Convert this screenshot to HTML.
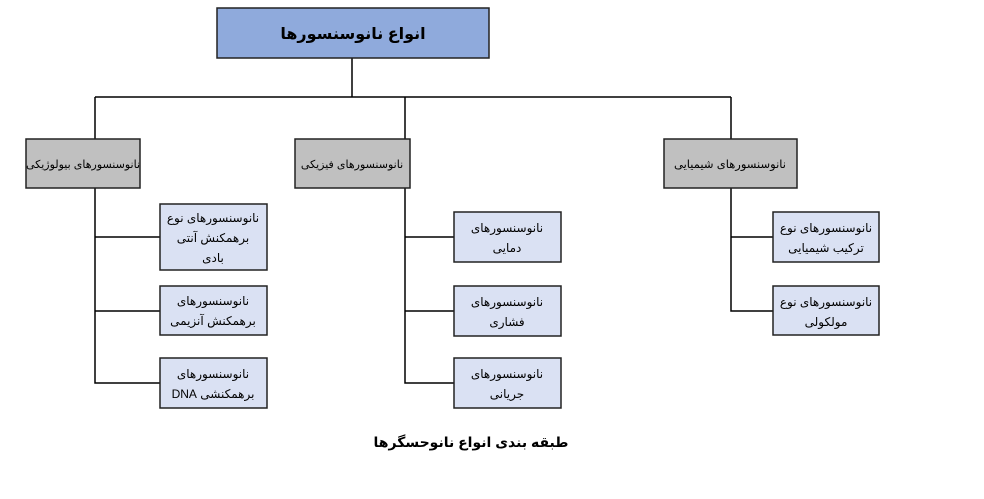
<!DOCTYPE html>
<html><head><meta charset="utf-8"><style>
body{margin:0;background:#fff;width:984px;height:494px;overflow:hidden}
text{font-family:"Liberation Sans","DejaVu Sans",sans-serif;direction:rtl}
</style></head><body>
<svg width="984" height="494" xmlns="http://www.w3.org/2000/svg">
<g stroke="#000" stroke-width="1.5" fill="none">
<path d="M352 58V97M95 97H731M95 97V139M405 97V139M731 97V139"/>
<path d="M95 188V383H160M95 237H160M95 311H160"/>
<path d="M405 188V383H454M405 237H454M405 311H454"/>
<path d="M731 188V311H773M731 237H773"/>
</g>
<g stroke="#222" stroke-width="1.5">
<rect x="217" y="8" width="272" height="50" fill="#8faadc"/>
<rect x="26" y="139" width="114" height="49" fill="#c0c0c0"/>
<rect x="295" y="139" width="115" height="49" fill="#c0c0c0"/>
<rect x="664" y="139" width="133" height="49" fill="#c0c0c0"/>
<rect x="160" y="204" width="107" height="66" fill="#dae1f3"/>
<rect x="160" y="286" width="107" height="49" fill="#dae1f3"/>
<rect x="160" y="358" width="107" height="50" fill="#dae1f3"/>
<rect x="454" y="212" width="107" height="50" fill="#dae1f3"/>
<rect x="454" y="286" width="107" height="50" fill="#dae1f3"/>
<rect x="454" y="358" width="107" height="50" fill="#dae1f3"/>
<rect x="773" y="212" width="106" height="50" fill="#dae1f3"/>
<rect x="773" y="286" width="106" height="49" fill="#dae1f3"/>
</g>
<g font-size="12" text-anchor="middle" fill="#000">
<text x="353" y="39" font-size="16" font-weight="bold">انواع نانوسنسورها</text>
<text x="83" y="168" font-size="11">نانوسنسورهای بیولوژیکی</text>
<text x="352" y="168" font-size="11">نانوسنسورهای فیزیکی</text>
<text x="730" y="168" font-size="11.5">نانوسنسورهای شیمیایی</text>
<text x="213" y="222">نانوسنسورهای نوع</text>
<text x="213" y="242">برهمکنش آنتی</text>
<text x="213" y="262">بادی</text>
<text x="213" y="305">نانوسنسورهای</text>
<text x="213" y="325">برهمکنش آنزیمی</text>
<text x="213" y="378">نانوسنسورهای</text>
<text x="213" y="398">برهمکنشی DNA</text>
<text x="507" y="232">نانوسنسورهای</text>
<text x="507" y="252">دمایی</text>
<text x="507" y="306">نانوسنسورهای</text>
<text x="507" y="326">فشاری</text>
<text x="507" y="378">نانوسنسورهای</text>
<text x="507" y="398">جریانی</text>
<text x="826" y="232">نانوسنسورهای نوع</text>
<text x="826" y="252">ترکیب شیمیایی</text>
<text x="826" y="306">نانوسنسورهای نوع</text>
<text x="826" y="326">مولکولی</text>
<text x="471" y="447" font-size="14" font-weight="bold">طبقه بندی انواع نانوحسگرها</text>
</g>
</svg>
</body></html>
